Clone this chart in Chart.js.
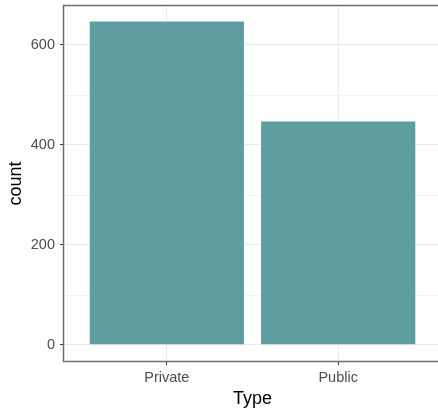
<!DOCTYPE html>
<html>
<head>
<meta charset="utf-8">
<script src="https://cdn.jsdelivr.net/npm/chart.js@4"></script>
<style>
  body { margin: 0; overflow: hidden; background: #fff; }
</style>
</head>
<body>
<canvas id="typeChart" width="442" height="408"></canvas>
<script>
// data
var categories = ['Private', 'Public'];
var counts = [647, 447];
var yTicks = [0, 200, 400, 600];
var yMinor = [100, 300, 500];

var FONT = '"Liberation Sans", Arial, sans-serif';

// panel border like ggplot theme_bw, minor gridlines too
var panelPlugin = {
    id: 'panel',
    beforeDatasetsDraw: function (chart) {
        var ctx = chart.ctx, a = chart.chartArea, y = chart.scales.y;
        ctx.save();
        ctx.strokeStyle = '#F3F3F3';
        ctx.lineWidth = 1;
        yMinor.forEach(function (v) {
            var py = Math.round(y.getPixelForValue(v)) + 0.5;
            ctx.beginPath();
            ctx.moveTo(a.left, py);
            ctx.lineTo(a.right, py);
            ctx.stroke();
        });
        ctx.restore();
    },
    afterDraw: function (chart) {
        var ctx = chart.ctx, a = chart.chartArea;
        ctx.save();
        ctx.strokeStyle = '#6e6e6e';
        ctx.lineWidth = 1.5;
        ctx.strokeRect(a.left - 0.5, a.top - 0.5, a.right - a.left + 1, a.bottom - a.top + 1);
        ctx.restore();
    }
};

var ctx = document.getElementById('typeChart');
var chart = new Chart(ctx, {
    type: 'bar',
    data: {
        datasets: [{
            label: 'count',
            data: categories.map(function (c, i) { return { x: i + 1, y: counts[i] }; }),
            backgroundColor: '#5F9EA0',
            borderWidth: 0,
            barPercentage: 0.9,
            categoryPercentage: 1.0
        }]
    },
    options: {
        responsive: false,
        animation: false,
        layout: { padding: { top: 6, right: 1, left: 0, bottom: 0 } },
        plugins: {
            legend: { display: false },
            tooltip: { enabled: false }
        },
        scales: {
            x: {
                type: 'linear',
                min: 0.4,
                max: 2.6,
                offset: false,
                afterBuildTicks: function (scale) {
                    scale.ticks = categories.map(function (c, i) { return { value: i + 1 }; });
                },
                afterFit: function (scale) {
                    scale.height = 47;
                    scale.paddingLeft = 0;
                    scale.paddingRight = 0;
                },
                grid: { offset: false, color: '#EBEBEB', tickColor: '#333', tickLength: 4, tickWidth: 1 },
                border: { display: false },
                ticks: {
                    color: '#4D4D4D',
                    font: { family: FONT, size: 14.5 },
                    padding: 4,
                    maxRotation: 0,
                    callback: function (v) { return categories[v - 1] || ''; }
                },
                title: {
                    display: true,
                    text: 'Type',
                    color: '#000',
                    font: { family: FONT, size: 18 },
                    padding: { top: 0, bottom: -2 }
                }
            },
            y: {
                min: -32.35,
                max: 678,
                afterBuildTicks: function (scale) {
                    scale.ticks = yTicks.map(function (v) { return { value: v }; });
                },
                afterFit: function (scale) {
                    scale.width = 64;
                    scale.paddingTop = 0;
                    scale.paddingBottom = 0;
                },
                grid: { color: '#EBEBEB', tickColor: '#333', tickLength: 4, tickWidth: 1 },
                border: { display: false },
                ticks: {
                    color: '#4D4D4D',
                    font: { family: FONT, size: 14.5 },
                    padding: 5
                },
                title: {
                    display: true,
                    text: 'count',
                    color: '#000',
                    font: { family: FONT, size: 18 },
                    padding: { top: 5, bottom: 0 }
                }
            }
        }
    },
    plugins: [panelPlugin]
});
</script>
</body>
</html>
